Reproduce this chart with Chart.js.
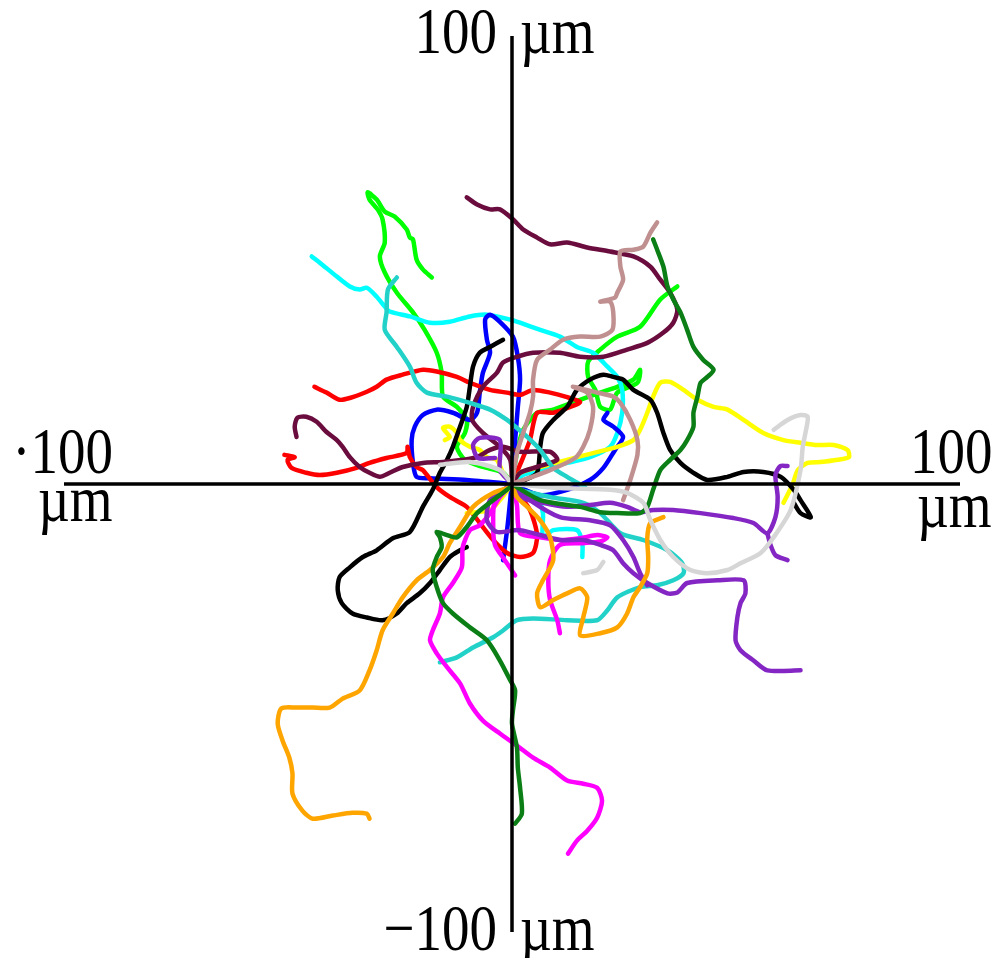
<!DOCTYPE html>
<html>
<head>
<meta charset="utf-8">
<script src="https://cdn.jsdelivr.net/npm/chart.js@4.4.1/dist/chart.umd.min.js"></script>
<style>
  html, body { margin: 0; padding: 0; background: #fff; }
  #wrap { position: relative; width: 999px; height: 958px; }
</style>
</head>
<body>
<div id="wrap"><canvas id="tracks" width="999" height="958"></canvas></div>
<script>
// cell tracks, x / y in µm, every track starts at the origin
const redA = [[0,0],[1.8,4.3],[4,9.8],[5.6,15.9],[9.2,15.9],[13,17.2],[15.2,18.3],[11.9,19.5],[8.5,20.4],[4.7,21],[1.8,19.9],[-1.1,20.4],[-4.9,21],[-9.4,22.6],[-12.3,23.9],[-16.8,25.1],[-19.9,25.5],[-24.4,24.4],[-28,23.3],[-30.2,21.7],[-32.4,20.6],[-36.2,19.2],[-38.5,18.8],[-41.4,20.4],[-44.1,21.7]];
const redB = [[0,0],[0.7,-1.3],[4,-5.8],[5.6,-11.4],[4.7,-15.4],[1.8,-16.3],[-1.1,-15.4],[-4.2,-12.5],[-7.2,-8.7],[-10.1,-5.1],[-13.9,-2.9],[-16.8,-0.7],[-19.9,3.1],[-21.3,3.8],[-22.8,6],[-23.3,8.3],[-23.5,6.9],[-28,5.8],[-31.8,4.7],[-34.7,3.6],[-39.1,2.5],[-42.9,2],[-45.9,2.5],[-49.2,3.6],[-50.1,5.4],[-48.5,6],[-50.8,6.5]];
const maroonA = [[0,0],[-0.4,5.4],[-2.7,8.3],[-6.5,11.4],[-8.9,14.3],[-8.7,17.2],[-6.5,21.7],[-3.4,24.8],[-2,27.1],[1.1,28.4],[4.7,29.3],[10.7,29.3],[15.2,28.4],[20.4,28.4],[25.7,30],[30.2,31.5],[33.8,33.8],[36,36],[36.9,38.9],[35.3,42.7],[33.1,45.6],[30.9,48.5],[27.1,50.8],[21.9,51.9],[16.8,52.8],[12.3,53.9],[8.5,53.5],[5.6,55],[2.5,56.8],[0.2,59.1],[-2.7,61.3],[-4.9,61.3],[-7.8,62.4],[-10.1,64]];
const maroonB = [[0,0],[1.8,2.5],[5.6,3.8],[10.1,5.4],[8.5,7.2],[1.8,7.2],[-2,8.3],[-4.9,7.6],[-7.8,6],[-11,5.4],[-15.4,4.9],[-19.9,4.7],[-24.4,3.8],[-27.3,2.5],[-29.5,1.6],[-31.8,2.5],[-34,3.8],[-36.2,6],[-37.8,8.3],[-39.1,9.8],[-41.4,11.6],[-43.6,13.9],[-45.9,15],[-47.9,14.8],[-48.5,12.8],[-48.1,10.5]];
const limeA = [[0,0],[-2,2.5],[-6.5,3.8],[-10.5,5.4],[-12.3,8.3],[-10.5,11.4],[-10.1,14.3],[-12.3,17.2],[-15.4,19.5],[-15.7,24.8],[-16.8,29.3],[-19.5,34.4],[-22.1,38.3],[-25.7,42.7],[-28.4,47.2],[-29.5,50.8],[-28.4,53.9],[-28.9,59.1],[-30,61.3],[-31.8,63.5],[-32.2,65.1],[-30.2,63.5],[-28.4,60.8],[-26.2,59.7],[-23.5,56.8],[-22.8,55],[-22.1,54.6],[-21.3,50.1],[-19.9,47.9],[-17.9,46.1]];
const limeB = [[0,0],[1.1,6.9],[2.5,12.1],[5.6,15.9],[9.2,16.6],[15.2,18.8],[19.7,20.4],[23.5,21.7],[27.1,23.3],[28.6,25.5],[28,22.6],[23.5,20.4],[21.9,16.6],[19.7,17.2],[18.6,21],[17,23.9],[17,27.3],[19.7,30],[23.5,32.9],[28.6,35.1],[33.1,41.2],[36.9,44.1]];
const cyanA = [[0,0],[2.5,2],[6.9,3.1],[12.3,4.7],[17.4,6],[21.9,8.3],[23.5,11.4],[24.6,15.9],[24.6,21],[23.5,23.9],[21.3,26.2],[18.1,29.3],[14.5,30.6],[10.7,32.9],[6.3,34.4],[1.8,36],[-0.4,36.7],[-5.6,37.8],[-9.4,37.4],[-13.9,36.2],[-18.3,36],[-22.8,37.4],[-27.3,38.5],[-28.4,39.6],[-30.2,41.8],[-32.4,43.8],[-34,43.4],[-36.2,44.1],[-39.1,46.3],[-42.9,49.4],[-44.7,50.8]];
const cyanB = [[0,0],[5.6,-2.9],[6.9,-6.5],[6.9,-11.9],[9.2,-10.3],[14.5,-10.3],[15.7,-13.2],[15.7,-16.3]];
const turqA = [[-25.7,46.1],[-27.7,43.4],[-28,38.3],[-28.4,34.4],[-25.7,30.6],[-22.8,26.2],[-21.3,22.6],[-19,20.4],[-14.5,19.5],[-9.4,18.1],[-4.9,16.6],[-1.1,14.3],[1.1,12.5],[3.4,10.5],[6.3,7.6],[9.2,3.6],[12.3,1.6],[16.3,-0.7]];
const turqB = [[0,0],[-0.4,-0.7],[8.5,-2.9],[15.9,-4.2],[19.7,-6.5],[24.2,-11],[29.3,-12.5],[34.7,-14.8],[38,-17.7],[38.3,-19.9],[36,-21.5],[32.4,-22.6],[28.6,-23],[23.5,-25.3],[21.3,-28.2],[19,-30.4],[12.3,-30.4],[4.7,-30],[1.1,-30.4],[-2,-32.7],[-4.2,-34.2],[-8.7,-36.5],[-12.3,-38.7],[-16.1,-39.8]];
const blueA = [[0,0],[-10.1,0.9],[-18.3,1.3],[-21.3,1.6],[-22.1,4.7],[-22.4,9.8],[-21.7,12.8],[-19.9,15.4],[-16.8,16.6],[-13.2,15.9],[-9.4,14.3],[-7.8,15.9],[-7.2,20.4],[-6.5,24.8],[-4.9,29.3],[-5.6,32.2],[-6,36.7],[-4.9,37.8],[-2.7,36.2],[0.2,32.9],[1.3,28.4],[1.8,23.3],[1.3,17.2],[0.7,9.8],[0.2,3.1],[-0.4,-3.6],[-1.1,-10.3],[-2,-17]];
const blueB = [[0,0],[6.3,-2.5],[12.3,-1.3],[17.4,0.9],[20.4,3.6],[23,7.6],[24.8,10.5],[22.6,12.8],[20.4,14.3],[21.3,15.9]];
const blackA = [[-10.1,-14.1],[-11.6,-14.8],[-13.9,-16.3],[-16.1,-19.2],[-18.3,-22.1],[-20.6,-24.4],[-23.5,-26.6],[-25.7,-28.9],[-28.9,-30.4],[-32.4,-29.8],[-35.6,-28.9],[-38,-26.6],[-38.9,-23.7],[-38.5,-20.8],[-36.2,-18.6],[-33.3,-16.3],[-30.2,-14.8],[-26.6,-12.1],[-22.8,-10.7],[-19.9,-5.1],[-17.7,-1.3],[-16.1,2.5],[-14.5,5.4],[-13.2,8.3],[-11.6,12.8],[-10.1,17.2],[-9.4,21.7],[-8.7,26.2],[-7.2,29.3],[-4.9,30.6],[-2,32.2]];
const blackB = [[0,0],[2.9,0.9],[5.6,2.5],[6.3,8.3],[6.9,11.4],[9.2,14.3],[12.3,17.2],[14.5,21],[17.4,23.3],[20.4,24.4],[22.6,23.9],[24.8,23.3],[27.1,21],[30.9,18.8],[32.4,15.9],[33.8,11.4],[35.3,7.6],[37.6,4.7],[40.5,2.5],[43.6,0.9],[48.1,1.6],[51.7,2.7],[56.1,2.7],[60,1.6],[62.9,-1.3],[64.4,-3.6],[66.7,-7.4],[64.4,-6.5],[62.9,-4.2]];
const orangeA = [[0,0],[-0.4,-0.7],[-4.2,-2],[-8.7,-5.1],[-11.6,-9.6],[-13.9,-13.2],[-15.4,-16.3],[-18.3,-19.2],[-21.3,-21.5],[-24.4,-25.3],[-26.6,-28.9],[-28.9,-32.7],[-30.2,-37.1],[-31.8,-41.6],[-34,-46.1],[-37.8,-47.9],[-40.7,-49.9],[-44.5,-49.9],[-48.1,-49.9],[-51.5,-50.1],[-52.3,-53.5],[-51.2,-57.3],[-49.7,-61.1],[-49,-64.6],[-49,-69.1],[-46.8,-72.9],[-44.5,-74.7],[-40,-74],[-35.6,-73.4],[-32.4,-73.6],[-31.8,-74.7]];
const orangeB = [[0,0],[1.1,-2.9],[3.4,-5.1],[6.3,-8.1],[8.5,-11.9],[9.2,-17],[6.9,-21.5],[5.6,-24.4],[6.3,-27.5],[9.2,-25.9],[12.3,-24.4],[15.2,-23.3],[16.8,-25.3],[15.9,-29.8],[15.2,-33.8],[19.7,-33.3],[23.5,-32],[25.7,-28.9],[27.1,-25.3],[28.6,-23],[30.2,-19.9],[30.4,-16.3],[30.2,-11.9],[30.9,-8.7],[33.8,-7.4]];
const magentaA = [[0,0],[-2.7,-2.9],[-4.9,-6.5],[-7.2,-9.2],[-9.4,-10.3],[-11,-14.1],[-11.2,-18.6],[-13.2,-22.1],[-15.4,-25.3],[-16.1,-28.9],[-17.7,-32.7],[-18.3,-34.9],[-16.8,-37.8],[-14.5,-40.9],[-11.6,-44.5],[-9.4,-49],[-6.5,-52.8],[-2.7,-55.7],[1.1,-58.4],[4.7,-61.1],[8.5,-63.3],[12.3,-66.2],[15.9,-66.9],[19,-67.8],[20.1,-70.7],[19,-74.5],[16.8,-77.4],[14.5,-79.6],[12.5,-82.5]];
const magentaB = [[0,0],[1.1,-4.7],[1.8,-11],[6.3,-11.9],[10.7,-12.5],[15.2,-12.1],[19,-11.4],[21.3,-11.9],[19.7,-12.8],[15.9,-13.2],[10.7,-13.6],[8.5,-17],[8.1,-21.5],[8.5,-25.9],[10.1,-30.4],[10.7,-33.3]];
const magentaC = [[0,0],[-3.8,-3.6],[-4.2,-9.2],[-3.8,-13.6],[-1.6,-17],[0.7,-20.4]];
const greenA = [[0,0],[6.3,-3.6],[15.2,-5.1],[19.7,-6.3],[23.5,-6.5],[28.6,-6.5],[30.2,-5.1],[31.5,-1.3],[33.1,3.1],[35.3,5.4],[37.6,7.6],[39.1,9.8],[40.5,12.8],[40.5,15.9],[41.4,19.5],[42.1,22.6],[43.6,23.9],[45,25.5],[42.7,27.7],[40.5,30.6],[39.1,34.4],[37.6,38.3],[36,41.2],[34.7,44.1],[33.8,48.5],[32.4,52.3],[31.5,54.6]];
const greenB = [[0,0],[-0.4,-0.7],[-4.2,-3.6],[-7.8,-6.5],[-10.1,-9.6],[-12.3,-11.9],[-14.5,-11.4],[-16.8,-10.7],[-16.1,-11.9],[-15.7,-14.1],[-16.8,-16.3],[-17.7,-19.2],[-16.8,-23],[-15.4,-26.6],[-13.2,-28.9],[-9.4,-32],[-5.6,-34.9],[-2.7,-39.4],[-0.4,-43.8],[0.7,-46.1],[0.2,-50.6],[0,-53.5],[1.1,-58.8],[1.3,-63.3],[1.8,-67.8],[2.2,-73.6],[0.7,-75.8]];
const purpleA = [[0,0],[-4.9,-3.6],[-5.6,-8.1],[-3.4,-10.7],[1.8,-10.3],[10.7,-12.5],[15.9,-12.5],[19.7,-13.6],[22.6,-14.8],[24.8,-17.7],[27.1,-19.9],[30.2,-22.1],[34.7,-24.4],[36.9,-24.2],[39.1,-22.1],[45.9,-21.5],[51.7,-21.5],[52.1,-24.4],[51,-26.6],[50.3,-29.8],[49.9,-34.9],[51,-37.1],[53.9,-39.4],[57,-41.6],[64.4,-41.6]];
const purpleB = [[0,0],[1.8,-2.9],[6.9,-4.2],[12.3,-5.1],[17.4,-4.7],[21.9,-4.2],[25.7,-5.1],[28.6,-6.3],[31.5,-5.8],[36,-5.8],[42.1,-6.5],[49.4,-7.6],[53.9,-8.7],[57,-11],[58.8,-7.4],[59.3,-2.9],[58.8,2],[59.9,4],[61.5,4]];
const purpleC = [[57,-11],[57.7,-13.6],[58.8,-15.9],[61.5,-17]];
const purpleD = [[0,0],[4,-3.6],[10.7,-7.4],[17.4,-8.1],[21.9,-9.2],[24.8,-12.5],[27.1,-16.3],[28.6,-19.9],[30.2,-22.6]];
const purpleE = [[0,0],[-2.7,3.1],[-2.7,9.8],[-7.2,10.3],[-8.7,8.7],[-7.6,5.8],[-3.8,5.8]];
const yellowA = [[0,0],[1.8,2.5],[6.3,3.8],[12.3,5.4],[18.1,6.9],[23.5,8.3],[27.1,9.8],[28.6,12.1],[30.2,15.9],[31.5,19.5],[33.1,22.6],[35.3,22.8],[38.3,21],[41.4,18.8],[45,17.2],[48.1,16.6],[51.7,14.3],[56.1,11.4],[60.6,9.8],[64.4,9.2],[68.2,8.7],[71.8,8.7],[74.9,7.6],[75.2,6],[72.7,5.4],[68.9,4.9],[66,4.7],[63.8,3.1],[62.6,-0.2],[60.6,-4.2]];
const yellowB = [[0,0],[-2,2.5],[-3.4,5.4],[-5.6,6],[-7.2,7.6],[-9.4,8.3],[-11.6,9.8],[-12.3,11.4],[-13.9,12.8],[-15.4,12.5],[-13.9,10.5],[-15,9.8]];
const yellowC = [[0,0],[-2.7,-3.6],[-4.9,-5.8],[-10.1,-6.5]];
const grayA = [[0,0],[10.7,-0.9],[21.9,-1.3],[25.7,-2],[29.3,-4.2],[30.9,-8.1],[33.1,-12.5],[36,-16.3],[39.8,-19.2],[43.6,-19.9],[48.1,-19.2],[51,-17.7],[55.5,-15.4],[58.4,-11.9],[62.2,-5.8],[64.4,3.1],[64.9,8.3],[65.5,11.4],[66,15],[64.4,15.4],[61.5,14.3],[58.4,12.1]];
const grayB = [[-16.1,4.3],[-9.4,4.9],[-2.7,3.1],[0,0]];
const grayC = [[15.9,-19.9],[19,-19.2],[20.4,-17.4]];
const rosyA = [[0,0],[1.1,6.9],[2.5,11.4],[4,15.9],[4.7,19.5],[4.7,23.3],[5.6,27.7],[8.5,30],[11.4,32.2],[15.2,32.9],[19.7,32.9],[22.4,34.4],[22.6,38.3],[21.9,40.7],[19.7,40.7],[23,41.6],[23.5,42.7],[24.8,45.6],[24.2,48.5],[24.2,51.9],[27.1,52.3],[29.3,53],[30.9,56.1],[32.4,58.4]];
const rosyB = [[0,0],[8.5,3.1],[14.1,5.8],[15.9,8.3],[17.4,12.1],[18.1,17.2],[16.8,20.4],[13.6,21.7],[19,20.4],[22.6,19.5],[24.2,18.1],[26.4,14.3],[28,9.8],[28,6.5],[26.4,0.9],[24.8,-3.6]];

const axisLabels = { top: ['100', 'µm'], bottom: ['\u2212100', 'µm'], left: ['\u00b7100', 'µm'], right: ['100', 'µm'] };

const tracks = [
  { data: grayA, color: '#d6d6d6' },
  { data: grayB, color: '#d6d6d6' },
  { data: grayC, color: '#d6d6d6' },
  { data: rosyA, color: '#c09090' },
  { data: rosyB, color: '#c09090' },
  { data: greenA, color: '#0b7f16' },
  { data: greenB, color: '#0b7f16' },
  { data: orangeA, color: '#ffa500' },
  { data: orangeB, color: '#ffa500' },
  { data: purpleA, color: '#8426c4' },
  { data: purpleB, color: '#8426c4' },
  { data: purpleC, color: '#8426c4' },
  { data: purpleD, color: '#8426c4' },
  { data: purpleE, color: '#8426c4' },
  { data: magentaA, color: '#ff00ff' },
  { data: magentaB, color: '#ff00ff' },
  { data: magentaC, color: '#ff00ff' },
  { data: turqA, color: '#22d2c8' },
  { data: turqB, color: '#22d2c8' },
  { data: maroonA, color: '#6a0d3e' },
  { data: maroonB, color: '#6a0d3e' },
  { data: blackA, color: '#000000' },
  { data: blackB, color: '#000000' },
  { data: yellowA, color: '#ffff00' },
  { data: yellowB, color: '#ffff00' },
  { data: yellowC, color: '#ffff00' },
  { data: redA, color: '#ff0000' },
  { data: redB, color: '#ff0000' },
  { data: blueA, color: '#0000ff' },
  { data: blueB, color: '#0000ff' },
  { data: cyanA, color: '#00ffff' },
  { data: cyanB, color: '#00ffff' },
  { data: limeA, color: '#00ff00' },
  { data: limeB, color: '#00ff00' }
];

// text in the source is a bit taller than normal, stretch it vertically
function tallText(ctx, text, x, y, align) {
  ctx.save();
  ctx.translate(x, y);
  ctx.scale(1, 1.2);
  ctx.textAlign = align;
  ctx.fillText(text, 0, 0);
  ctx.restore();
}

// cross axes through the origin plus the four end labels
const axesPlugin = {
  id: 'crossAxes',
  afterDatasetsDraw(chart) {
    const { ctx, scales: { x, y } } = chart;
    const x0 = x.getPixelForValue(0);
    const y0 = y.getPixelForValue(0);
    ctx.save();
    ctx.strokeStyle = '#000';
    ctx.lineWidth = 3.5;
    ctx.beginPath();
    ctx.moveTo(x.getPixelForValue(-100), y0);
    ctx.lineTo(x.getPixelForValue(100), y0);
    ctx.moveTo(x0, y.getPixelForValue(100));
    ctx.lineTo(x0, y.getPixelForValue(-100));
    ctx.stroke();

    ctx.fillStyle = '#000';
    ctx.font = '55px "Liberation Serif", "Times New Roman", serif';
    ctx.textBaseline = 'alphabetic';
    tallText(ctx, axisLabels.top[0], x0 - 15, 53, 'right');
    tallText(ctx, axisLabels.top[1], x0 + 8, 53, 'left');
    tallText(ctx, axisLabels.bottom[0], x0 - 15, 950, 'right');
    tallText(ctx, axisLabels.bottom[1], x0 + 8, 950, 'left');
    tallText(ctx, axisLabels.left[0], 113, 473, 'right');
    tallText(ctx, axisLabels.left[1], 38, 521, 'left');
    tallText(ctx, axisLabels.right[0], 910, 473, 'left');
    tallText(ctx, axisLabels.right[1], 917, 527, 'left');
    ctx.restore();
  }
};

new Chart(document.getElementById('tracks').getContext('2d'), {
  type: 'scatter',
  data: {
    datasets: tracks.map((t, i) => ({
      label: 'track ' + (i + 1),
      data: t.data.map(p => ({ x: p[0], y: p[1] })),
      showLine: true,
      borderColor: t.color,
      backgroundColor: t.color,
      borderWidth: 4.5,
      pointRadius: 0,
      tension: 0.25,
      borderCapStyle: 'round',
      borderJoinStyle: 'round'
    }))
  },
  options: {
    responsive: false,
    animation: false,
    devicePixelRatio: 1,
    layout: { padding: { left: 64, right: 39, top: 36, bottom: 26 } },
    plugins: { legend: { display: false }, tooltip: { enabled: false } },
    scales: {
      x: { type: 'linear', min: -100, max: 100, display: false },
      y: { type: 'linear', min: -100, max: 100, display: false }
    }
  },
  plugins: [axesPlugin]
});
</script>
</body>
</html>
